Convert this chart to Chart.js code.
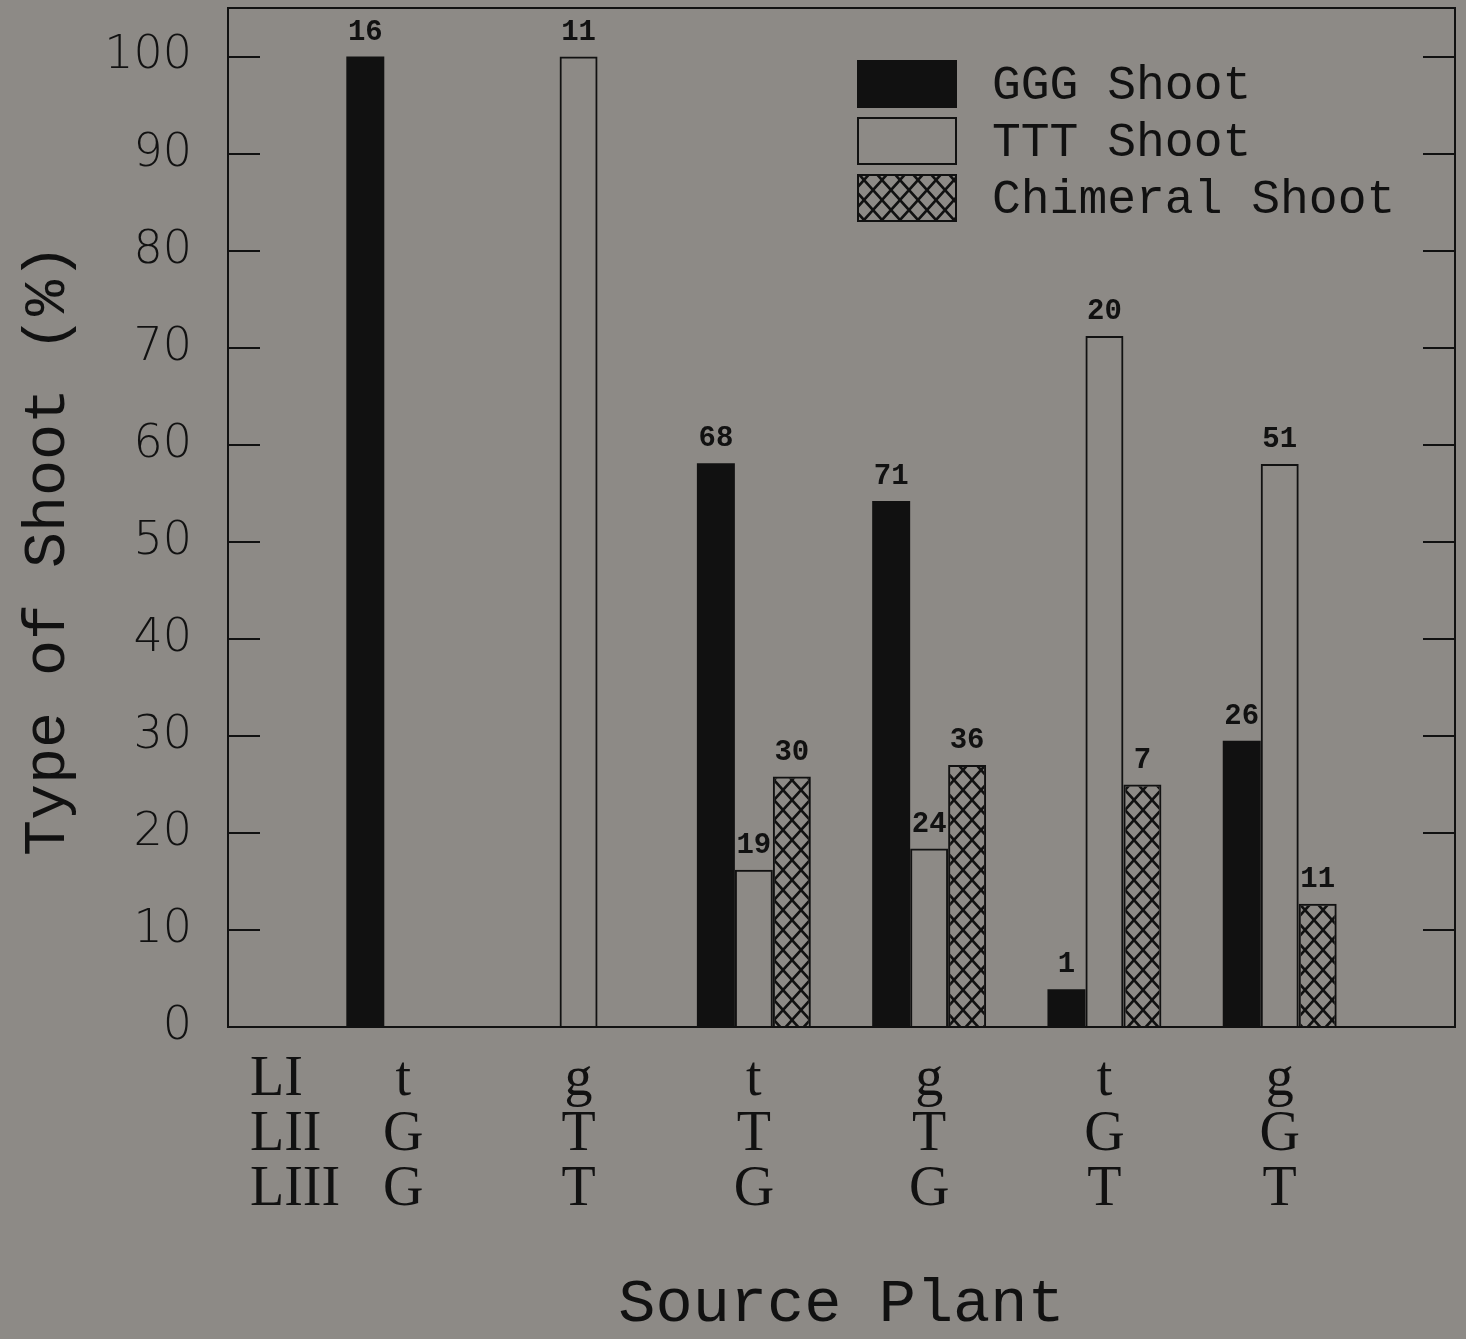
<!DOCTYPE html>
<html>
<head>
<meta charset="utf-8">
<script src="https://cdn.jsdelivr.net/npm/chart.js@4.4.0/dist/chart.umd.min.js"></script>
<style>
  html, body { margin: 0; padding: 0; background: #8d8a86; }
</style>
</head>
<body>
<canvas id="chart" width="1466" height="1339"></canvas>
<script>
// genotype of the source plant, layer by layer
const layerI = ['t', 'g', 't', 'g', 't', 'g'];
const layerII = ['G', 'T', 'T', 'T', 'G', 'G'];
const layerIII = ['G', 'T', 'G', 'G', 'T', 'T'];
const layerNames = ['LI', 'LII', 'LIII'];

const seriesNames = ['GGG Shoot', 'TTT Shoot', 'Chimeral Shoot'];

// percent of shoots
const gggPct = [100, null, 58.1, 54.2, 3.9, 29.5];
const tttPct = [null, 100, 16.2, 18.4, 71.2, 58.0];
const chimPct = [null, null, 25.8, 27.0, 25.0, 12.7];

// number of shoots written over the bars
const gggCount = [16, null, 68, 71, 1, 26];
const tttCount = [null, 11, 19, 24, 20, 51];
const chimCount = [null, null, 30, 36, 7, 11];

const yTicks = [0, 10, 20, 30, 40, 50, 60, 70, 80, 90, 100];

const ink = '#111111';
const bg = '#8d8a86';

// empty slot on each side so the groups sit like the original
const pad = arr => [null].concat(arr, [null]);
const labels = [''].concat(layerI.map((l, i) => [l, layerII[i], layerIII[i]]), ['']);
const counts = [pad(gggCount), pad(tttCount), pad(chimCount)];

function makeHatch() {
    const c = document.createElement('canvas');
    c.width = 18;
    c.height = 20;
    const g = c.getContext('2d');
    g.strokeStyle = ink;
    g.lineWidth = 2.6;
    g.beginPath();
    g.moveTo(0, 0); g.lineTo(18, 20);
    g.moveTo(18, 0); g.lineTo(0, 20);
    g.stroke();
    return g.createPattern(c, 'repeat');
}

function noPadding(scale) {
    scale.paddingTop = 0;
    scale.paddingBottom = 0;
    scale.paddingLeft = 0;
    scale.paddingRight = 0;
}

const canvas = document.getElementById('chart');
const hatch = makeHatch();

const decor = {
    id: 'decor',
    beforeDraw(chart) {
        const ctx = chart.ctx;
        ctx.save();
        ctx.fillStyle = bg;
        ctx.fillRect(0, 0, chart.width, chart.height);
        ctx.restore();
    },
    afterDatasetsDraw(chart) {
        const ctx = chart.ctx;
        const a = chart.chartArea;
        const y = chart.scales.y;
        ctx.save();
        ctx.strokeStyle = ink;
        ctx.lineWidth = 2;
        ctx.strokeRect(a.left, a.top, a.right - a.left, a.bottom - a.top);
        ctx.beginPath();
        yTicks.forEach(v => {
            if (v === 0) return;
            const py = Math.round(y.getPixelForValue(v));
            ctx.moveTo(a.left, py); ctx.lineTo(a.left + 32, py);
            ctx.moveTo(a.right - 32, py); ctx.lineTo(a.right, py);
        });
        ctx.stroke();

        // counts above bars
        ctx.fillStyle = ink;
        ctx.font = 'bold 29px "Liberation Mono"';
        ctx.textAlign = 'center';
        ctx.textBaseline = 'middle';
        chart.data.datasets.forEach((ds, d) => {
            chart.getDatasetMeta(d).data.forEach((bar, i) => {
                const n = counts[d][i];
                if (n == null) return;
                ctx.fillText(String(n), bar.x, bar.y - 24);
            });
        });
        ctx.restore();
    },
    afterDraw(chart) {
        const ctx = chart.ctx;
        const a = chart.chartArea;
        ctx.save();
        ctx.fillStyle = ink;
        ctx.strokeStyle = ink;

        // legend
        const lx = 857, ly = 60, rowH = 57;
        ctx.font = '48px "Liberation Mono"';
        ctx.textAlign = 'left';
        ctx.textBaseline = 'middle';
        chart.data.datasets.forEach((ds, d) => {
            const top = ly + d * rowH;
            if (d === 0) {
                ctx.fillStyle = ink;
                ctx.fillRect(lx, top, 100, 48);
            } else {
                if (d === 2) {
                    ctx.fillStyle = hatch;
                    ctx.fillRect(lx, top, 100, 48);
                }
                ctx.lineWidth = 2;
                ctx.strokeRect(lx + 1, top + 1, 98, 46);
            }
            ctx.fillStyle = ink;
            ctx.fillText(ds.label, lx + 135, top + 26);
        });

        // layer names under the axis
        ctx.font = '56px "Liberation Serif"';
        layerNames.forEach((n, k) => {
            ctx.fillText(n, 250, a.bottom + 53 + k * 55);
        });

        // y title
        ctx.translate(48, 550);
        ctx.rotate(-Math.PI / 2);
        ctx.textAlign = 'center';
        ctx.font = '60px "Liberation Mono"';
        ctx.fillText('Type of Shoot (%)', 0, 0);
        ctx.restore();
    }
};

new Chart(canvas, {
    type: 'bar',
    data: {
        labels: labels,
        datasets: [
            {
                label: seriesNames[0],
                data: pad(gggPct),
                backgroundColor: ink,
                borderWidth: 0
            },
            {
                label: seriesNames[1],
                data: pad(tttPct),
                backgroundColor: 'rgba(0,0,0,0)',
                borderColor: ink,
                borderWidth: 2
            },
            {
                label: seriesNames[2],
                data: pad(chimPct),
                backgroundColor: hatch,
                borderColor: ink,
                borderWidth: 2
            }
        ]
    },
    options: {
        responsive: false,
        animation: false,
        devicePixelRatio: 1,
        layout: { padding: { top: 8, right: 11, left: 0, bottom: 0 } },
        categoryPercentage: 0.65,
        barPercentage: 1,
        plugins: {
            legend: { display: false },
            tooltip: { enabled: false }
        },
        scales: {
            x: {
                offset: false,
                grid: { display: false, drawTicks: false },
                border: { display: false },
                ticks: {
                    color: ink,
                    autoSkip: false,
                    maxRotation: 0,
                    padding: 26,
                    font: { family: 'Liberation Serif', size: 56, lineHeight: 0.98 }
                },
                title: {
                    display: true,
                    text: 'Source Plant',
                    color: ink,
                    padding: { top: 0, bottom: 3 },
                    font: { family: 'Liberation Mono', size: 62, lineHeight: 1 }
                },
                afterFit(scale) {
                    scale.height = 312;
                    noPadding(scale);
                }
            },
            y: {
                min: 0,
                max: 105,
                grid: { display: false, drawTicks: false },
                border: { display: false },
                ticks: {
                    stepSize: 10,
                    color: ink,
                    padding: 36,
                    font: { family: 'DejaVu Sans', weight: 200, size: 46 }
                },
                afterBuildTicks(scale) {
                    scale.ticks = yTicks.map(v => ({ value: v }));
                },
                afterFit(scale) {
                    scale.width = 228;
                    noPadding(scale);
                }
            }
        }
    },
    plugins: [decor]
});
</script>
</body>
</html>
